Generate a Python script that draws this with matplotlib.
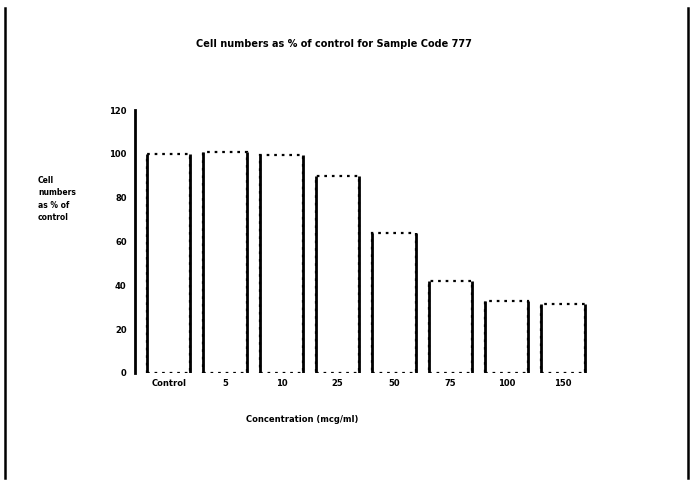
import matplotlib
matplotlib.use("Agg")
import matplotlib.pyplot as plt
from matplotlib.lines import Line2D
import numpy as np

categories = ["Control", "5", "10", "25", "50", "75", "100", "150"]
values = [100, 101, 99.5, 90, 64, 42, 33, 31.5]
yticks = [0, 20, 40, 60, 80, 100, 120]

W, H = 699, 483
fig = plt.figure(figsize=(W / 100, H / 100), dpi=100)
ax = fig.add_axes([135 / W, 1 - 373 / H, (591 - 135) / W, (373 - 110) / H])

x = np.arange(len(categories))
w = 0.77
ax.bar(x, values, width=w, color="white", edgecolor="black",
       linestyle=(0, (1.2, 2.2)), linewidth=1.6, zorder=2)
ax.vlines(x - w / 2, 0, values, colors="black", linewidth=2.0, zorder=3)
ax.vlines(x + w / 2, 0, values, colors="black", linewidth=2.0, zorder=3)

ax.set_xlim(-0.6, 7.5)
ax.set_ylim(0, 120)
ax.set_yticks(yticks)
ax.set_yticklabels([str(t) for t in yticks], fontsize=6, fontweight="bold")
ax.set_xticks(x)
ax.set_xticklabels(categories, fontsize=6, fontweight="bold")
ax.tick_params(axis="y", length=0, pad=6)
ax.tick_params(axis="x", length=0, pad=4)
for s in ["top", "right", "bottom"]:
    ax.spines[s].set_visible(False)
ax.spines["left"].set_linewidth(2.0)

fig.text(334 / W, 1 - 44 / H, "Cell numbers as % of control for Sample Code 777",
         ha="center", va="center", fontsize=7, fontweight="bold")
fig.text(38 / W, 1 - 199 / H, "Cell\nnumbers\nas % of\ncontrol",
         ha="left", va="center", fontsize=5.5, fontweight="bold", linespacing=1.5)
fig.text(302 / W, 1 - 420 / H, "Concentration (mcg/ml)",
         ha="center", va="center", fontsize=6, fontweight="bold")

fig.add_artist(Line2D([5 / W, 5 / W], [1 - 478 / H, 1 - 8 / H], color="black", lw=1.8))
fig.add_artist(Line2D([688 / W, 688 / W], [1 - 478 / H, 1 - 8 / H], color="black", lw=1.8))

fig.savefig("out.png", dpi=100)
